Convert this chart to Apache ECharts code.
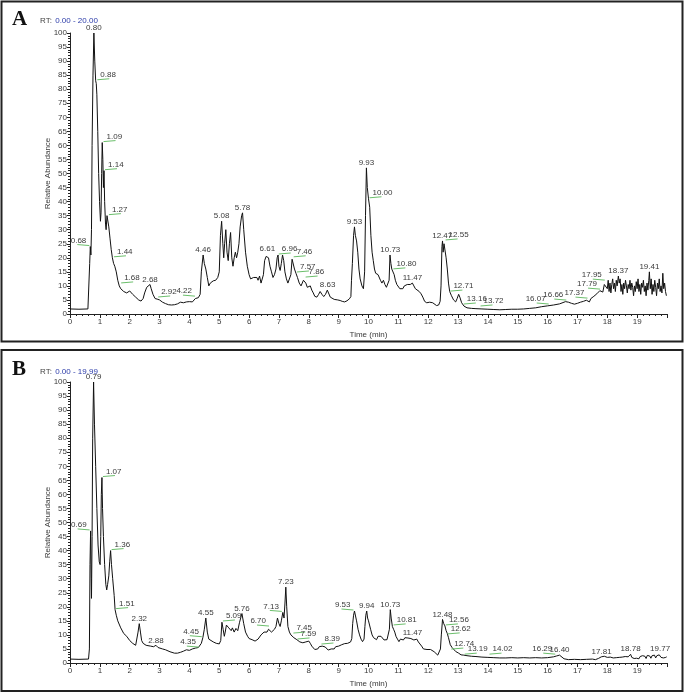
<!DOCTYPE html>
<html>
<head>
<meta charset="utf-8">
<script src="https://cdn.jsdelivr.net/npm/echarts@6/dist/echarts.min.js"></script>
<style>
  html, body { margin: 0; padding: 0; background: #fff; }
  #chart { width: 685px; height: 695px; }
</style>
</head>
<body>
<div id="chart"></div>
<script>
// chromatogram A: [time (min), relative abundance]
var traceA = [
  [0, 1.8], [0.3, 1.7], [0.6, 1.8], [0.64, 2.5], [0.66, 18], [0.68, 24], [0.7, 21], [0.72, 30], [0.74, 60],
  [0.77, 85], [0.8, 100], [0.83, 90], [0.86, 83], [0.88, 82], [0.9, 78], [0.93, 65], [0.96, 50], [0.99, 40],
  [1.02, 33], [1.04, 36], [1.06, 50], [1.08, 61], [1.1, 55], [1.12, 45], [1.14, 51], [1.16, 40], [1.19, 32],
  [1.21, 30], [1.24, 35], [1.27, 35], [1.3, 31], [1.34, 27], [1.38, 23], [1.42, 20], [1.46, 18], [1.5, 17],
  [1.55, 15], [1.6, 12], [1.65, 10], [1.7, 9], [1.75, 8.5], [1.8, 8], [1.85, 8.5], [1.9, 7.5], [1.95, 8],
  [2.0, 8.2], [2.05, 7.8], [2.1, 7], [2.2, 6], [2.3, 5], [2.38, 4.6], [2.45, 5.5], [2.5, 7.5], [2.57, 9.5],
  [2.63, 10], [2.68, 10.5], [2.72, 9], [2.78, 7], [2.85, 5.5], [2.92, 5.3], [3.0, 5], [3.1, 4.2], [3.2, 3.7],
  [3.3, 3.3], [3.4, 3.2], [3.5, 3.3], [3.6, 3.6], [3.7, 4.2], [3.8, 4], [3.9, 4.3], [4.0, 4.4], [4.1, 4.3],
  [4.2, 5.5], [4.3, 5.8], [4.36, 7], [4.4, 15], [4.46, 21], [4.5, 18], [4.55, 16], [4.6, 13], [4.65, 10],
  [4.7, 11], [4.75, 11.5], [4.8, 11.8], [4.88, 12], [4.95, 13], [5.0, 15], [5.04, 28], [5.08, 33], [5.12, 25],
  [5.15, 20], [5.18, 25], [5.22, 30], [5.26, 22], [5.3, 19], [5.34, 25], [5.38, 29], [5.42, 20], [5.46, 17],
  [5.5, 20], [5.54, 22], [5.58, 20], [5.62, 22], [5.66, 25], [5.7, 31], [5.75, 35], [5.78, 36], [5.82, 30],
  [5.88, 22], [5.94, 17], [6.0, 14], [6.05, 12.5], [6.1, 12], [6.15, 13], [6.2, 12.5], [6.26, 13], [6.3, 12],
  [6.35, 13.5], [6.4, 11], [6.43, 10.5], [6.48, 14], [6.52, 19], [6.57, 20.5], [6.61, 21], [6.65, 20],
  [6.7, 17], [6.75, 15], [6.8, 13], [6.85, 14], [6.9, 16], [6.94, 20], [6.97, 21], [7.0, 17], [7.04, 15.5],
  [7.08, 18], [7.12, 21], [7.16, 19], [7.2, 15], [7.25, 12.5], [7.3, 11], [7.36, 10.5], [7.4, 14], [7.44, 19.5],
  [7.47, 20], [7.52, 16], [7.57, 14.5], [7.62, 13], [7.68, 11], [7.74, 10], [7.78, 10.5], [7.82, 12],
  [7.86, 12.5], [7.9, 11], [7.95, 9.5], [8.0, 10], [8.05, 10], [8.1, 8.5], [8.15, 7.5], [8.2, 6.3], [8.27, 6],
  [8.33, 7], [8.38, 8], [8.44, 7], [8.5, 6.2], [8.56, 7], [8.62, 8.5], [8.66, 8], [8.72, 6], [8.78, 5.5],
  [8.85, 5.2], [8.9, 5.4], [8.97, 5], [9.05, 4.8], [9.12, 4.5], [9.2, 4.3], [9.28, 4.7], [9.36, 5.4],
  [9.41, 6.2], [9.43, 12], [9.46, 18], [9.5, 28], [9.53, 31], [9.56, 28], [9.6, 26], [9.64, 22], [9.68, 16],
  [9.72, 12.5], [9.78, 10], [9.83, 9], [9.87, 15], [9.9, 35], [9.93, 52], [9.96, 45], [10.0, 41], [10.04, 38],
  [10.08, 28], [10.12, 22], [10.16, 19], [10.2, 16], [10.24, 14.5], [10.28, 15], [10.32, 14], [10.36, 14.5],
  [10.4, 12], [10.45, 11], [10.5, 12], [10.55, 10.5], [10.6, 9.5], [10.65, 10], [10.69, 12], [10.72, 21],
  [10.75, 18], [10.78, 16], [10.82, 15.5], [10.86, 14], [10.9, 12], [10.95, 10.5], [11.0, 10], [11.05, 9],
  [11.1, 8.3], [11.15, 9], [11.2, 10], [11.25, 9.5], [11.3, 10.5], [11.35, 10], [11.4, 10.5], [11.47, 11],
  [11.52, 10], [11.57, 9], [11.62, 8.5], [11.7, 8], [11.76, 7.2], [11.82, 6], [11.88, 4.5], [11.95, 4],
  [12.0, 4.5], [12.05, 4.2], [12.1, 4.5], [12.15, 4], [12.2, 3.5], [12.28, 3], [12.35, 3.2], [12.4, 4.5],
  [12.43, 10], [12.46, 24], [12.48, 26], [12.5, 22], [12.53, 25], [12.56, 25], [12.6, 20], [12.64, 16],
  [12.68, 11], [12.72, 8], [12.78, 6.5], [12.85, 5], [12.92, 4.3], [12.97, 5.5], [13.02, 7], [13.06, 6],
  [13.12, 4], [13.2, 2.8], [13.3, 2.2], [13.45, 2], [13.6, 1.9], [13.8, 1.8], [14.0, 1.7], [14.2, 1.6],
  [14.4, 1.5], [14.6, 1.6], [14.8, 1.7], [15.0, 1.7], [15.2, 1.8], [15.4, 2], [15.6, 2.2], [15.8, 2.6],
  [16.0, 2.9], [16.2, 3.2], [16.4, 3.6], [16.6, 4.4], [16.7, 4.2], [16.8, 3.8], [16.9, 3.5], [17.0, 3.8],
  [17.1, 4.2], [17.2, 4.5], [17.3, 4.9], [17.35, 5.2], [17.4, 4.3], [17.45, 5.5], [17.5, 5.8], [17.55, 6.3],
  [17.6, 6], [17.65, 7.2], [17.7, 7], [17.75, 8.3], [17.8, 8.5], [17.85, 7.8], [17.9, 10.5], [17.95, 11],
  [18.0, 9], [18.03, 12], [18.06, 8], [18.09, 11], [18.12, 7.5], [18.15, 10.5], [18.18, 12.5], [18.21, 9],
  [18.24, 11], [18.27, 8], [18.3, 12], [18.33, 10], [18.37, 13.5], [18.4, 11], [18.43, 12.5], [18.46, 8],
  [18.49, 10.5], [18.52, 7], [18.55, 11], [18.58, 9], [18.61, 12], [18.64, 10], [18.67, 7.5], [18.7, 10.5],
  [18.73, 9], [18.76, 12], [18.79, 8.5], [18.82, 11], [18.85, 9.5], [18.88, 6.5], [18.91, 10], [18.94, 8],
  [18.97, 11.5], [19.0, 9], [19.03, 12.5], [19.06, 8], [19.09, 10.5], [19.12, 7], [19.15, 11], [19.18, 9.5],
  [19.21, 12], [19.24, 8], [19.27, 10], [19.3, 6.5], [19.33, 11], [19.36, 8.5], [19.39, 12], [19.41, 15],
  [19.44, 9], [19.47, 12.5], [19.5, 7], [19.53, 10.5], [19.56, 8], [19.59, 12], [19.62, 9.5], [19.65, 6.5],
  [19.68, 11], [19.71, 9], [19.74, 12.5], [19.77, 8], [19.8, 10], [19.83, 7.5], [19.86, 14.5], [19.89, 9],
  [19.92, 11], [19.95, 8], [19.98, 6.5]
];

// chromatogram B
var traceB = [
  [0, 1.4], [0.3, 1.3], [0.62, 1.4], [0.65, 5], [0.67, 35], [0.69, 47], [0.71, 30], [0.72, 23], [0.74, 45],
  [0.76, 80], [0.79, 100], [0.82, 85], [0.86, 70], [0.9, 55], [0.94, 42], [0.98, 36], [1.01, 35], [1.03, 45],
  [1.05, 60], [1.07, 66], [1.09, 55], [1.12, 45], [1.16, 35], [1.2, 28], [1.23, 26], [1.26, 28], [1.3, 31],
  [1.33, 36], [1.36, 40], [1.39, 35], [1.43, 30], [1.48, 24], [1.51, 19], [1.55, 17], [1.6, 15], [1.7, 12.5],
  [1.8, 10.5], [1.9, 9.5], [2.0, 8], [2.1, 7], [2.2, 6.3], [2.25, 7], [2.28, 11], [2.32, 14], [2.36, 11],
  [2.4, 8], [2.45, 7], [2.55, 6.3], [2.7, 6], [2.8, 5.8], [2.88, 6.3], [2.95, 5.5], [3.1, 5], [3.2, 4.7],
  [3.35, 4], [3.5, 3.5], [3.6, 3.5], [3.7, 3.8], [3.8, 4.2], [3.9, 4.7], [4.0, 4.5], [4.1, 5], [4.2, 5.3],
  [4.3, 5.5], [4.35, 5.5], [4.4, 7], [4.45, 9], [4.5, 12], [4.55, 16], [4.6, 11], [4.65, 8.5], [4.7, 7.8],
  [4.8, 7.5], [4.9, 7], [5.0, 6.8], [5.05, 8], [5.09, 14.5], [5.13, 12], [5.17, 9.5], [5.2, 11], [5.24, 13.5],
  [5.28, 14], [5.32, 12.5], [5.36, 13], [5.4, 11.5], [5.44, 12.5], [5.5, 11], [5.56, 12.3], [5.62, 11.5],
  [5.68, 14.5], [5.76, 17.6], [5.82, 14], [5.88, 11], [5.95, 9.5], [6.0, 8.7], [6.1, 8.3], [6.2, 7.8],
  [6.25, 7.5], [6.3, 8.5], [6.35, 8], [6.4, 10], [6.45, 9.5], [6.5, 11], [6.55, 11.5], [6.6, 11], [6.65, 12],
  [6.7, 12.5], [6.75, 11], [6.8, 11.5], [6.85, 12], [6.9, 13], [6.95, 16], [7.0, 14], [7.04, 13], [7.08, 15],
  [7.13, 18], [7.17, 16], [7.2, 21], [7.23, 27], [7.26, 20], [7.3, 13], [7.35, 11], [7.4, 10], [7.45, 10.3],
  [7.5, 9], [7.55, 8.5], [7.6, 8.3], [7.65, 8.7], [7.7, 7.5], [7.75, 8], [7.8, 7.2], [7.85, 6.8], [7.9, 7.5],
  [7.95, 7], [8.0, 7.8], [8.05, 7], [8.1, 6], [8.15, 5.5], [8.2, 4.8], [8.25, 4.5], [8.3, 5], [8.35, 5.8],
  [8.4, 6.4], [8.45, 6], [8.5, 5.3], [8.55, 5.7], [8.6, 5], [8.65, 4.6], [8.7, 4.5], [8.75, 5], [8.8, 5.5],
  [8.85, 5], [8.9, 5.8], [8.95, 5.5], [9.0, 6], [9.05, 5.8], [9.1, 6.5], [9.15, 6], [9.2, 6.9], [9.25, 6.5],
  [9.3, 7], [9.35, 7.2], [9.4, 7.5], [9.44, 8.7], [9.47, 14], [9.5, 17], [9.53, 18.5], [9.57, 18], [9.6, 15],
  [9.65, 12], [9.7, 10], [9.75, 8.5], [9.8, 7.6], [9.85, 8.5], [9.88, 13], [9.91, 17], [9.94, 18.5],
  [9.97, 16], [10.0, 15], [10.03, 14.6], [10.07, 12], [10.12, 10], [10.17, 9], [10.22, 8.5], [10.27, 8.3],
  [10.32, 9.5], [10.37, 9], [10.42, 9.5], [10.47, 9], [10.52, 8.2], [10.57, 8], [10.62, 8.3], [10.67, 9],
  [10.7, 12], [10.73, 19], [10.76, 16], [10.8, 13], [10.84, 12], [10.88, 11], [10.92, 9.5], [10.97, 8.5],
  [11.02, 7.6], [11.07, 8.5], [11.12, 7.8], [11.17, 8.2], [11.22, 9], [11.27, 8.3], [11.32, 8.9], [11.37, 8.2],
  [11.42, 8.7], [11.47, 9], [11.52, 8.2], [11.57, 8], [11.62, 8.5], [11.67, 7.5], [11.72, 6.9], [11.78, 6],
  [11.84, 5], [11.9, 4.5], [11.96, 4.8], [12.02, 4.4], [12.08, 4.8], [12.14, 4.5], [12.2, 4], [12.26, 3.3],
  [12.32, 2.8], [12.37, 3], [12.41, 5], [12.44, 10], [12.48, 15.5], [12.52, 14], [12.56, 13.2], [12.6, 11.5],
  [12.64, 10.5], [12.68, 9], [12.74, 6.5], [12.8, 5.5], [12.86, 4.8], [12.92, 4.1], [12.97, 4.5], [13.02, 3.5],
  [13.1, 2.9], [13.19, 2.8], [13.3, 2.6], [13.45, 2.4], [13.6, 2.3], [13.8, 2.1], [14.0, 2], [14.2, 1.9],
  [14.4, 1.8], [14.6, 1.8], [14.8, 1.9], [15.0, 1.8], [15.2, 1.9], [15.4, 1.8], [15.6, 1.9], [15.8, 1.8],
  [16.0, 1.9], [16.2, 2.2], [16.3, 2.5], [16.35, 2.3], [16.4, 2.8], [16.45, 2.2], [16.55, 1.5], [16.7, 1.2],
  [16.9, 1.3], [17.1, 1.2], [17.3, 1.3], [17.5, 1.4], [17.6, 1.2], [17.7, 1.6], [17.75, 1.4], [17.8, 2.2],
  [17.85, 1.7], [17.9, 2.4], [17.95, 1.8], [18.0, 2], [18.05, 1.6], [18.1, 2.1], [18.15, 1.5], [18.2, 1.8],
  [18.25, 1.4], [18.3, 1.9], [18.35, 1.5], [18.4, 2.0], [18.45, 1.6], [18.5, 2.1], [18.55, 1.7], [18.6, 2.3],
  [18.65, 1.8], [18.7, 2.2], [18.75, 2.6], [18.78, 3.1], [18.82, 2.0], [18.86, 2.4], [18.9, 1.6], [18.94, 2.2],
  [18.98, 1.7], [19.02, 2.0], [19.06, 1.5], [19.1, 2.3], [19.14, 1.8], [19.18, 2.6], [19.22, 1.9], [19.26, 2.4],
  [19.3, 1.6], [19.34, 2.7], [19.38, 2.0], [19.42, 2.5], [19.46, 1.7], [19.5, 2.6], [19.54, 2.0], [19.58, 2.8],
  [19.62, 1.8], [19.66, 2.6], [19.7, 2.1], [19.74, 2.9], [19.77, 3.2], [19.8, 2.0], [19.84, 2.6], [19.88, 1.8],
  [19.92, 2.5], [19.96, 2.0], [19.99, 2.2]
];

// peak labels [rt, abundance]; top = over apex, right/left = with green leader
var peaksTopA = [[0.80, 100], [2.68, 10.5], [4.46, 21], [5.08, 33], [5.78, 36], [6.61, 21.5], [8.63, 8.5],
  [9.53, 31], [9.93, 52], [10.73, 21], [11.47, 11], [12.47, 26], [18.37, 13.5], [19.41, 15]];
var peaksRightA = [[0.88, 83], [1.09, 61], [1.14, 51], [1.27, 35], [1.44, 20], [1.68, 10.7], [2.92, 5.7],
  [6.96, 21], [7.46, 20], [7.57, 14.6], [7.86, 12.8], [10.00, 41], [10.80, 15.7], [12.55, 26], [12.71, 7.8],
  [13.16, 3.2], [13.72, 2.5]];
var peaksLeftA = [[0.68, 24], [4.22, 6], [16.07, 3.2], [16.66, 4.6], [17.37, 5.3], [17.79, 8.5], [17.95, 11.7]];

var peaksTopB = [[0.79, 100], [2.32, 14], [2.88, 6], [4.55, 16], [5.76, 17.6], [7.23, 27], [9.94, 18.5],
  [10.73, 19], [11.47, 9], [12.48, 15.5], [16.40, 2.8], [17.81, 2.3], [18.78, 3.1], [19.77, 3.2]];
var peaksRightB = [[1.07, 66], [1.36, 40], [1.51, 19], [5.09, 14.6], [7.45, 10.3], [7.59, 8.2], [8.39, 6.4],
  [10.81, 13.2], [12.56, 13.2], [12.62, 10], [12.74, 4.6], [13.19, 2.8], [14.02, 2.8]];
var peaksLeftB = [[0.69, 47], [4.35, 5.3], [4.45, 9], [6.70, 12.8], [7.13, 18], [9.53, 18.5], [16.29, 2.8]];

var xTicks = [0, 20, 1];
var yTicks = [0, 100, 5];

var FONT = "'Liberation Sans', Arial, sans-serif";
var chart = echarts.init(document.getElementById('chart'));

function makeX(idx) {
  return {
    type: 'value', gridIndex: idx, min: xTicks[0], max: xTicks[1], interval: xTicks[2],
    name: 'Time (min)', nameLocation: 'middle', nameGap: 17, nameMoveOverlap: false,
    nameTextStyle: { fontSize: 8, color: '#3a3a3a', fontFamily: FONT },
    axisLine: { lineStyle: { color: '#222', width: 1 } },
    axisTick: { length: 4, lineStyle: { color: '#222' } },
    minorTick: { show: true, splitNumber: 5, length: 2, lineStyle: { color: '#222' } },
    splitLine: { show: false },
    axisLabel: { fontSize: 8, color: '#3a3a3a', fontFamily: FONT, margin: 4,
      formatter: function (v) { return v >= 20 ? '' : v; } }
  };
}

function makeY(idx) {
  return {
    type: 'value', gridIndex: idx, min: yTicks[0], max: yTicks[1], interval: yTicks[2],
    name: 'Relative Abundance', nameLocation: 'middle', nameGap: 18, nameMoveOverlap: false,
    nameTextStyle: { fontSize: 8, color: '#3a3a3a', fontFamily: FONT },
    axisLine: { show: true, lineStyle: { color: '#222', width: 1 } },
    axisTick: { show: true, length: 3, lineStyle: { color: '#222' } },
    minorTick: { show: true, splitNumber: 5, length: 2, lineStyle: { color: '#222' } },
    splitLine: { show: false },
    axisLabel: { fontSize: 8, color: '#3a3a3a', fontFamily: FONT, margin: 3 }
  };
}

function traceSeries(data, idx) {
  return {
    type: 'line', xAxisIndex: idx, yAxisIndex: idx, data: data,
    showSymbol: false, symbol: 'none', silent: true, animation: false,
    lineStyle: { color: '#111', width: 1 }
  };
}

// retention time labels drawn through the axes
function labelSeries(data, idx, side) {
  return {
    type: 'custom', xAxisIndex: idx, yAxisIndex: idx, data: data, silent: true, animation: false, z: 5,
    renderItem: function (params, api) {
      var p = api.coord([api.value(0), api.value(1)]);
      var txt = api.value(0).toFixed(2);
      var ts = { text: txt, fill: '#3a3a3a', fontSize: 8, fontFamily: FONT, verticalAlign: 'bottom' };
      if (side === 'top') {
        ts.align = 'center';
        return { type: 'text', x: p[0], y: p[1] - 1, style: ts };
      }
      var d = side === 'right' ? 1 : -1;
      ts.align = side === 'right' ? 'left' : 'right';
      return {
        type: 'group',
        children: [
          { type: 'line', shape: { x1: p[0] + d, y1: p[1] - 1, x2: p[0] + d * 13, y2: p[1] - 2 },
            style: { stroke: '#6cbf6c', lineWidth: 1 } },
          { type: 'text', x: p[0] + d * 4, y: p[1] - 2, style: ts }
        ]
      };
    }
  };
}

function header(y, range) {
  return {
    type: 'text', left: 40, top: y,
    style: {
      text: '{a|RT:} {b|' + range + '}',
      rich: {
        a: { fontSize: 8, fill: '#444', fontFamily: FONT },
        b: { fontSize: 8, fill: '#2a3aa8', fontFamily: FONT }
      }
    }
  };
}

chart.setOption({
  animation: false,
  backgroundColor: '#fff',
  grid: [
    { left: 70, top: 33, width: 597, height: 281 },
    { left: 70, top: 382, width: 597, height: 281 }
  ],
  xAxis: [makeX(0), makeX(1)],
  yAxis: [makeY(0), makeY(1)],
  graphic: [
    { type: 'rect', shape: { x: 1.5, y: 1.5, width: 681, height: 340 }, style: { fill: 'none', stroke: '#222', lineWidth: 2 } },
    { type: 'rect', shape: { x: 1.5, y: 350, width: 681, height: 341 }, style: { fill: 'none', stroke: '#222', lineWidth: 2 } },
    { type: 'text', left: 12, top: 9, style: { text: 'A', fontSize: 21, fontWeight: 'bold', fontFamily: "'Liberation Serif', serif", fill: '#111' } },
    { type: 'text', left: 12, top: 359, style: { text: 'B', fontSize: 21, fontWeight: 'bold', fontFamily: "'Liberation Serif', serif", fill: '#111' } },
    header(15, '0.00 - 20.00'),
    header(366, '0.00 - 19.99')
  ],
  series: [
    traceSeries(traceA, 0),
    traceSeries(traceB, 1),
    labelSeries(peaksTopA, 0, 'top'),
    labelSeries(peaksRightA, 0, 'right'),
    labelSeries(peaksLeftA, 0, 'left'),
    labelSeries(peaksTopB, 1, 'top'),
    labelSeries(peaksRightB, 1, 'right'),
    labelSeries(peaksLeftB, 1, 'left')
  ]
});
</script>
</body>
</html>
